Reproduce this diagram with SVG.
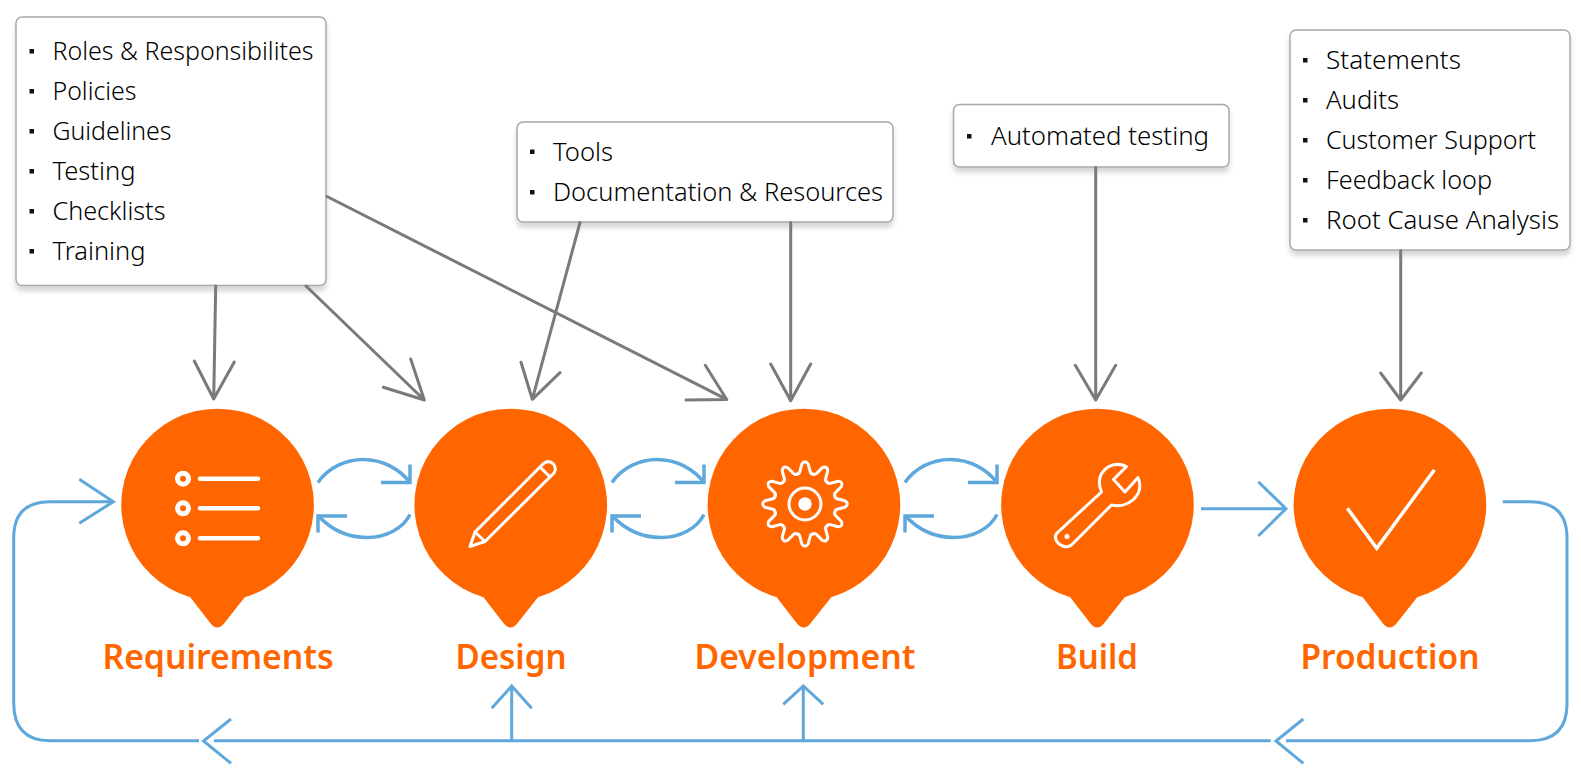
<svg xmlns="http://www.w3.org/2000/svg" xmlns:xlink="http://www.w3.org/1999/xlink" width="1581" height="771" viewBox="0 0 1581 771">
<style>
.box{fill:#fff;stroke:#a8a8a8;stroke-width:1.5;filter:url(#sh)}
.t{font-family:"Noto Sans","Open Sans",sans-serif;font-size:25px;font-weight:300;fill:#000}
.lab{font-family:"Noto Sans","Open Sans",sans-serif;font-size:34px;font-weight:600;fill:#ff6600}
.bul{fill:#111}
.bubble{fill:#ff6600}
.ic{fill:none;stroke:#fff;stroke-width:3;stroke-linejoin:round;stroke-linecap:round}
.g{fill:none;stroke:#7a7a7a;stroke-width:3;stroke-linecap:round;stroke-linejoin:round}
.b{fill:none;stroke:#5fa8dc;stroke-width:3;stroke-linejoin:miter}
.b2{fill:none;stroke:#5fa8dc;stroke-width:3.500;stroke-linejoin:miter}
</style>
<defs>
<filter id="sh" x="-10%" y="-10%" width="120%" height="130%"><feDropShadow dx="0" dy="5" stdDeviation="2.500" flood-color="#000" flood-opacity="0.16"/></filter>
<path id="bub" class="bubble" d="M-28.5 92.300A96.300 96.300 0 1 1 26 92.300L6 117.500Q-1.500 127.500-9 117.500Z"/>
<path id="tooth" d="M-8.02-29.94Q-5.5-30-5-33L-3.2-40Q0-44.6 3.2-40L5-33Q5.5-30 8.02-29.94"/>
<g id="swap">
<path class="b2" d="M0 0C10-15 28-23 45-23C65-23 82-13 92 0"/>
<path class="b2" d="M92-18V0H63"/>
<path class="b2" d="M92 32C85 46 68 55 49 55C28 55 12 46 0 33"/>
<path class="b2" d="M0 50V33.500H29"/>
</g>
</defs>

<g id="box-requirements">
<rect class="box" x="16" y="17" width="310" height="268.500" rx="6"/>
<rect class="bul" x="29.500" y="49" width="4.500" height="4.500"/><text class="t" x="52.500" y="60" textLength="261" lengthAdjust="spacingAndGlyphs">Roles &amp; Responsibilites</text>
<rect class="bul" x="29.500" y="89" width="4.500" height="4.500"/><text class="t" x="52.500" y="100" textLength="84" lengthAdjust="spacingAndGlyphs">Policies</text>
<rect class="bul" x="29.500" y="129" width="4.500" height="4.500"/><text class="t" x="52.500" y="139.500" textLength="119" lengthAdjust="spacingAndGlyphs">Guidelines</text>
<rect class="bul" x="29.500" y="169" width="4.500" height="4.500"/><text class="t" x="52.500" y="179.500" textLength="83" lengthAdjust="spacingAndGlyphs">Testing</text>
<rect class="bul" x="29.500" y="209" width="4.500" height="4.500"/><text class="t" x="52.500" y="219.500" textLength="113" lengthAdjust="spacingAndGlyphs">Checklists</text>
<rect class="bul" x="29.500" y="249" width="4.500" height="4.500"/><text class="t" x="52.500" y="259.500" textLength="93" lengthAdjust="spacingAndGlyphs">Training</text>
</g>
<g id="box-tools">
<rect class="box" x="517" y="122" width="376" height="100" rx="6"/>
<rect class="bul" x="530" y="149.500" width="4.500" height="4.500"/><text class="t" x="553" y="160.500" textLength="60" lengthAdjust="spacingAndGlyphs">Tools</text>
<rect class="bul" x="530" y="190" width="4.500" height="4.500"/><text class="t" x="553" y="200.500" textLength="330" lengthAdjust="spacingAndGlyphs">Documentation &amp; Resources</text>
</g>
<g id="box-automated">
<rect class="box" x="953.500" y="104.500" width="275.500" height="62.500" rx="6"/>
<rect class="bul" x="967" y="134" width="4.500" height="4.500"/><text class="t" x="991" y="145" textLength="218" lengthAdjust="spacingAndGlyphs">Automated testing</text>
</g>
<g id="box-production">
<rect class="box" x="1290" y="30" width="280" height="220" rx="6"/>
<rect class="bul" x="1303" y="58" width="4.500" height="4.500"/><text class="t" x="1326" y="69" textLength="135" lengthAdjust="spacingAndGlyphs">Statements</text>
<rect class="bul" x="1303" y="98" width="4.500" height="4.500"/><text class="t" x="1326" y="109" textLength="73" lengthAdjust="spacingAndGlyphs">Audits</text>
<rect class="bul" x="1303" y="138" width="4.500" height="4.500"/><text class="t" x="1326" y="149" textLength="210" lengthAdjust="spacingAndGlyphs">Customer Support</text>
<rect class="bul" x="1303" y="178" width="4.500" height="4.500"/><text class="t" x="1326" y="188.500" textLength="166" lengthAdjust="spacingAndGlyphs">Feedback loop</text>
<rect class="bul" x="1303" y="218" width="4.500" height="4.500"/><text class="t" x="1326" y="228.500" textLength="233" lengthAdjust="spacingAndGlyphs">Root Cause Analysis</text>
</g>

<g id="step-requirements">
<use xlink:href="#bub" href="#bub" transform="translate(218.800 505)"/>
<g class="ic">
<circle cx="183" cy="478.700" r="5.500" stroke-width="5"/><circle cx="183" cy="508.300" r="5.500" stroke-width="5"/><circle cx="183" cy="538.300" r="5.500" stroke-width="5"/>
<path stroke-width="4.500" d="M200 478.700H258M200 508.300H258M200 538.300H258"/>
</g>
<text class="lab" x="102.500" y="669" textLength="231" lengthAdjust="spacingAndGlyphs">Requirements</text>
</g>
<g id="step-design">
<use xlink:href="#bub" href="#bub" transform="translate(512 505)"/>
<path class="ic" d="M470 546.500L475 532L543.500 463.500Q549 459.500 553.500 464Q557 469 554 473L485 541.500ZM475 532L485 541.500M540 467L549.500 476.500"/>
<text class="lab" x="455.500" y="669" textLength="111" lengthAdjust="spacingAndGlyphs">Design</text>
</g>
<g id="step-development">
<use xlink:href="#bub" href="#bub" transform="translate(805.200 505)"/>
<g class="ic" transform="translate(805 504)">
<use xlink:href="#tooth" href="#tooth"/><use xlink:href="#tooth" href="#tooth" transform="rotate(30)"/><use xlink:href="#tooth" href="#tooth" transform="rotate(60)"/><use xlink:href="#tooth" href="#tooth" transform="rotate(90)"/><use xlink:href="#tooth" href="#tooth" transform="rotate(120)"/><use xlink:href="#tooth" href="#tooth" transform="rotate(150)"/><use xlink:href="#tooth" href="#tooth" transform="rotate(180)"/><use xlink:href="#tooth" href="#tooth" transform="rotate(210)"/><use xlink:href="#tooth" href="#tooth" transform="rotate(240)"/><use xlink:href="#tooth" href="#tooth" transform="rotate(270)"/><use xlink:href="#tooth" href="#tooth" transform="rotate(300)"/><use xlink:href="#tooth" href="#tooth" transform="rotate(330)"/>
<circle r="16"/>
<circle r="6.700" fill="#fff" stroke="none"/>
</g>
<text class="lab" x="694.500" y="669" textLength="221" lengthAdjust="spacingAndGlyphs">Development</text>
</g>
<g id="step-build">
<use xlink:href="#bub" href="#bub" transform="translate(1098.700 505)"/>
<path class="ic" d="M1101.500 492Q1095 476 1108 467Q1117 462 1126.500 466.500L1113.500 479.500L1125 492L1138 477.500Q1143 490 1134 499Q1124 508 1111.500 505L1071.500 545Q1066 549 1059 544Q1053 538 1057 533Z"/>
<circle cx="1067" cy="536.500" r="2.500" fill="#fff"/>
<text class="lab" x="1056" y="669" textLength="82" lengthAdjust="spacingAndGlyphs">Build</text>
</g>
<g id="step-production">
<use xlink:href="#bub" href="#bub" transform="translate(1391.200 505)"/>
<path class="ic" style="stroke-width:3.500;stroke-linecap:butt;stroke-linejoin:miter" d="M1347.300 508.300L1376.700 548.300L1434.300 470"/>
<text class="lab" x="1300.500" y="669" textLength="179" lengthAdjust="spacingAndGlyphs">Production</text>
</g>

<g id="connectors">
<path class="g" d="M215.700 286L213.700 399M194.300 361L213.700 399L234.300 362"/>
<path class="g" d="M306 286L424.300 400M410.700 359L424.300 400L383.300 387.300"/>
<path class="g" d="M580 222.500L532.300 399.300M521 362.300L532.300 399.300L560 372.700"/>
<path class="g" d="M327 196.500L726.700 399.300M705.300 365.300L726.700 399.500L686 400"/>
<path class="g" d="M790.700 222.500V400.700M770.700 364L790.700 400.700L810.700 364"/>
<path class="g" d="M1095.700 167.500V400M1075.300 365.300L1095.700 400L1115.700 365.300"/>
<path class="g" d="M1400.700 250.500V400M1380.700 373L1400.700 400L1421.300 373"/>
<use xlink:href="#swap" href="#swap" transform="translate(318 482.500)"/>
<use xlink:href="#swap" href="#swap" transform="translate(612 482.500)"/>
<use xlink:href="#swap" href="#swap" transform="translate(905 482.500)"/>
<path class="b" d="M1201 508.700H1286M1258.300 481.700L1286 508.700L1258.300 536"/>
<path class="b" d="M1502.700 501.700H1530Q1567 501.700 1567 538V704Q1567 740.700 1530 740.700H1286M1303.300 719L1276 741L1303.300 763.300"/>
<path class="b" d="M1270.700 740.700H214M231 719L203.500 741L231 763.300"/>
<path class="b" d="M199 740.700H50Q13.700 740.700 13.700 703V538Q13.700 501.700 50 501.700H113M79.300 479.300L113.300 501.700L79.300 523.300"/>
<path class="b" d="M511.700 740.700V686M491.700 708.300L511.700 686L531.700 708.300"/>
<path class="b" d="M803.300 740.700V686M783.300 704.300L803.300 686L823.300 704.300"/>
</g>
</svg>
